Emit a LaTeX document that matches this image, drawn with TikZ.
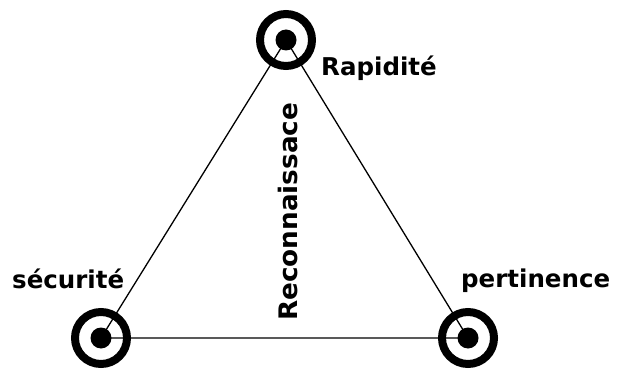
\documentclass[tikz,border=0pt]{standalone}
\usepackage{fontspec}
\setmainfont{DejaVu Sans}
\begin{document}
\begin{tikzpicture}[x=1pt,y=-1pt,
  edge/.style={line width=1.3pt, black},
  ring/.style={circle, draw=black, line width=8pt, minimum size=52pt, inner sep=0pt},
  dot/.style={circle, fill=black, minimum size=21pt, inner sep=0pt},
  lab/.style={font=\bfseries\fontsize{24.5}{28}\selectfont, inner sep=0pt, anchor=base west}]
  \useasboundingbox (0,0) rectangle (618,374);
  % vertices
  \coordinate (top) at (286,40);
  \coordinate (bl) at (101,338);
  \coordinate (br) at (468,338);
  % edges between vertex centres
  \draw[edge] (top) -- (bl) -- (br) -- cycle;
  % vertex markers
  \foreach \v in {top,bl,br} {
    \node[ring] (\v-ring) at (\v) {};
    \node[dot] (\v-dot) at (\v) {};
  }
  % labels
  \node[lab] (lrap) at (321,76) {Rapidité};
  \node[lab] (lsec) at (12,288) {sécurité};
  \node[lab] (lper) at (461,287) {pertinence};
  \node[lab, rotate=90, font=\bfseries\fontsize{25.5}{28}\selectfont, xscale=1.03] (lrec) at (297,321) {Reconnaissace};
\end{tikzpicture}
\end{document}
